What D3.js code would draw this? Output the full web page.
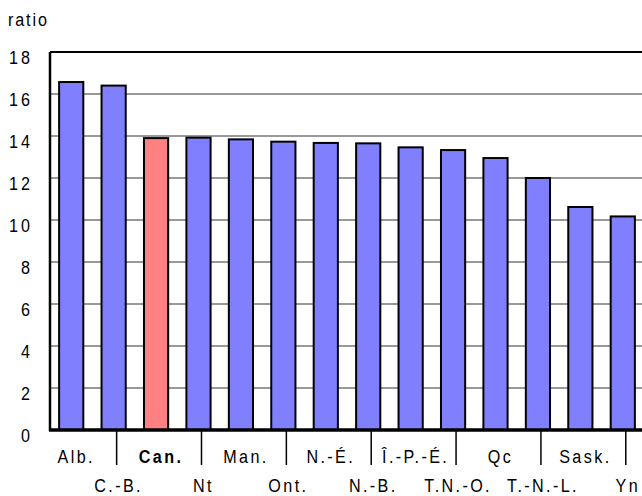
<!DOCTYPE html>
<html><head><meta charset="utf-8">
<script src="https://cdn.jsdelivr.net/npm/d3@7"></script>
<style>body{margin:0;background:#fff;} text{font-family:"Liberation Sans",Arial,sans-serif;}</style>
</head><body>
<svg id="c" width="642" height="496"></svg>
<script>
const categories = ["Alb.","C.-B.","Can.","Nt","Man.","Ont.","N.-É.","N.-B.","Î.-P.-É.","T.N.-O.","Qc","T.-N.-L.","Sask.","Yn"];
const values = [16.57,16.4,13.9,13.92,13.84,13.73,13.67,13.65,13.46,13.33,12.95,12.0,10.62,10.17];
const highlight = "Can.";
const yTicks = [0,2,4,6,8,10,12,14,16,18];
const yLabel = "ratio";

const svg = d3.select("#c");
const pL = 50, pR = 644, pT = 52, pB = 430;
const SX = 0.85, FS = 19;
const x = d3.scaleBand().domain(categories).range([pL, pR]).paddingInner(0.43).paddingOuter(0.215);
const y = d3.scaleLinear().domain([0,18]).range([pB, pT]);

function label(g, tx, ty, anchor, ls) {
  return g.append("text")
    .attr("transform", `translate(${tx},${ty}) scale(${SX},1)`)
    .attr("text-anchor", anchor).attr("font-size", FS).attr("letter-spacing", ls).attr("fill","#000");
}

// gridlines
svg.append("g").selectAll("line").data(yTicks.filter(d=>d>0 && d<18)).join("line")
  .attr("x1", pL).attr("x2", pR).attr("y1", d=>y(d)).attr("y2", d=>y(d))
  .attr("stroke", "#999").attr("stroke-width", 2);
// top border
svg.append("line").attr("x1", pL).attr("x2", pR).attr("y1", y(18)).attr("y2", y(18))
  .attr("stroke","#000").attr("stroke-width",2);

// bars
svg.append("g").selectAll("rect").data(categories).join("rect")
  .attr("x", d=>x(d)).attr("width", x.bandwidth())
  .attr("y", (d,i)=>y(values[i])).attr("height", (d,i)=>pB - y(values[i]))
  .attr("fill", d=> d===highlight ? "#ff8080" : "#8080ff")
  .attr("stroke","#000").attr("stroke-width",2);

// y axis labels (positions from scale)
const gy = svg.append("g");
y.ticks && yTicks.forEach(t => {
  label(gy, 33, y(t) + 12, "end", 3.5).text(d3.format("d")(t));
});
svg.append("line").attr("x1",pL).attr("x2",pL).attr("y1",pT).attr("y2",pB+1).attr("stroke","#000").attr("stroke-width",2.5);

// x axis
svg.append("line").attr("x1",pL-1).attr("x2",pR).attr("y1",pB).attr("y2",pB).attr("stroke","#000").attr("stroke-width",3.5);
const cx = d => x(d) + x.bandwidth()/2;
svg.append("g").selectAll("line").data(categories.filter((d,i)=>i%2===1)).join("line")
  .attr("x1", d=>cx(d)+3).attr("x2", d=>cx(d)+3).attr("y1", pB).attr("y2", 465)
  .attr("stroke","#000").attr("stroke-width",1.5);
const gx = svg.append("g");
categories.forEach((c,i) => {
  label(gx, cx(c)+5, i%2===0 ? 463 : 492, "middle", 2.8)
    .attr("font-weight", c===highlight ? "bold" : "normal").text(c);
});

label(svg, 8, 26, "start", 2.2).text(yLabel);
</script>
</body></html>
